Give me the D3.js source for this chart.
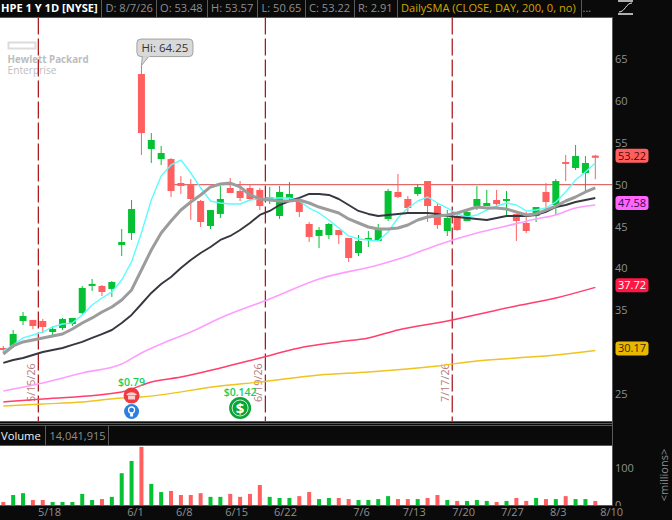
<!DOCTYPE html>
<html lang="en">
<head>
  <meta charset="UTF-8">
  <script src="https://d3js.org/d3.v7.min.js"></script>
  <title>HPE 1 Y 1D</title>
  <style>
    html, body { margin: 0; padding: 0; background: #0a0a0a; }
    svg { display: block; font-family: 'Open Sans', sans-serif; }
    .axis text { fill: #8f8f8f; font-size: 11px; font-family: 'Open Sans', sans-serif; }
    .axis path, .axis line { display: none; }
    .head { font-size: 11.1px; fill: #8f8f8f; }
  </style>
</head>
<body>
<div id="chart"></div>
<script>
  // daily candles, oldest first
  let opens = [30.47,30.71,33.70,33.82,33.70,32.38,32.86,33.34,34.65,37.89,37.89,37.53,42.79,44.22,63.24,54.27,53.07,53.07,50.20,49.96,48.05,45.06,46.50,49.61,49.25,49.61,49.37,48.29,46.26,48.41,48.05,45.30,43.87,43.98,44.58,43.63,41.83,43.39,43.27,45.90,49.13,48.29,48.89,50.44,47.45,44.46,46.26,45.66,47.45,47.45,48.17,48.05,46.50,45.42,46.26,49.13,47.57,52.71,52.00,51.40,53.48];
  let closes = [30.23,32.14,34.30,33.10,32.98,32.74,33.94,34.06,37.65,38.13,37.17,38.36,43.15,47.09,56.18,55.35,53.79,49.25,49.85,48.29,45.54,46.97,48.29,49.01,48.41,48.29,47.45,48.53,49.13,48.89,46.74,43.75,44.58,45.30,43.98,41.23,43.27,43.63,44.58,49.25,48.53,47.21,49.73,47.45,45.18,46.02,44.58,46.74,48.29,47.81,47.69,48.29,45.66,44.46,47.33,47.93,50.44,52.48,53.43,52.60,53.22];
  let highs = [30.71,32.62,34.78,33.82,33.94,33.10,34.06,34.06,37.89,38.72,38.01,38.48,44.70,48.17,64.25,56.18,54.63,53.19,51.04,50.68,48.17,46.97,49.85,50.80,50.44,49.96,49.61,49.73,49.85,50.32,48.41,45.54,44.94,45.42,44.58,43.63,43.98,44.46,45.30,49.49,51.28,48.65,50.08,50.44,47.81,46.97,46.38,46.86,49.85,49.37,49.37,49.25,46.50,46.74,47.33,50.20,50.68,53.55,54.75,53.43,53.57];
  let lows = [29.87,30.47,33.22,32.74,32.26,32.02,32.62,33.10,34.53,37.29,36.69,36.57,41.47,43.39,53.55,52.60,52.36,48.53,48.89,45.78,44.94,44.70,46.02,49.01,48.05,48.05,46.97,47.69,45.90,47.93,46.14,43.15,42.43,43.51,42.91,40.76,41.47,42.55,43.27,45.66,48.41,46.62,48.65,45.54,44.70,43.86,44.46,45.66,46.97,47.45,47.33,46.38,43.27,44.22,45.54,47.09,46.38,50.44,51.76,49.13,50.65];
  // volume in millions
  let volumes = [8,27,32,13.5,13.5,8,8,8,30,13.5,16,22,86,119,157,57,35,38,27,27,32,22,22,30,22,30,54,22,19,19,24,35,16,19,19,16,13.5,13.5,16,24,16,16,16,19,27,13.5,11,11,13.5,11,8,11,19,11,19,16,16,24,16,16,11];

  // moving averages read at every bar
  let smaCyan = [30.11,30.83,31.67,32.02,32.38,32.98,33.34,33.46,34.42,35.61,36.45,37.17,38.60,40.76,44.22,48.17,51.04,52.36,52.95,51.40,49.61,48.05,47.81,47.69,47.69,48.17,48.29,48.41,48.41,48.41,48.05,47.21,46.62,45.78,44.82,43.87,43.51,43.39,43.27,44.34,46.02,47.21,48.05,48.53,47.81,47.21,46.50,46.14,46.38,46.97,47.45,47.81,47.57,46.86,46.97,47.21,47.93,49.13,50.56,51.52,52.60];
  let smaGrey = [29.75,30.71,31.19,31.43,31.67,31.91,32.14,32.74,33.46,34.06,34.77,35.37,36.21,37.41,39.80,42.19,44.22,45.66,46.97,47.93,48.77,49.73,50.08,50.20,49.73,48.77,48.29,48.17,48.05,48.05,48.17,47.81,47.33,46.97,46.62,45.90,45.42,44.94,44.70,44.70,44.82,45.18,45.78,46.14,46.26,46.38,46.62,46.97,47.33,47.21,47.21,47.09,46.74,46.38,46.50,46.97,47.45,48.05,48.53,49.13,49.61];
  let smaBlack = [28.68,29.03,29.27,29.63,29.99,30.23,30.47,30.83,31.19,31.67,32.14,32.62,33.46,34.42,35.73,37.05,38.12,38.96,40.04,41.00,41.83,42.55,43.39,43.87,44.58,45.42,46.38,46.86,47.57,48.05,48.41,48.89,48.89,48.77,48.29,47.57,46.86,46.50,46.26,46.38,46.50,46.62,46.62,46.62,46.50,46.26,46.14,46.02,45.90,45.78,46.02,46.26,46.26,46.26,46.38,46.74,47.33,47.57,47.93,48.17,48.41];

  // the slow averages, read at the bars where they bend
  let pinkBars = [0,4,8,12,14,16,19,22,27,32,38,41,44,48,51,54,56,58,60];
  let pinkVals = [25.33,26.28,27.48,28.56,29.87,30.95,32.38,34.06,36.33,38.72,40.40,41.47,42.79,44.22,45.06,45.90,46.38,47.21,47.58];
  let redBars = [0,4,12,15,18,22,26,30,34,37,40,45,52,56,60];
  let redVals = [24.01,24.37,25.21,26.40,27.00,28.08,29.27,30.47,31.19,31.67,32.62,33.70,35.49,36.45,37.72];
  let goldBars = [0,4,8,12,14,22,26,32,37,44,48,52,56,60];
  let goldVals = [23.53,23.77,24.01,24.49,24.61,25.92,26.40,27.24,27.60,28.32,28.91,29.27,29.63,30.17];

  let priceTicks = [65,60,55,50,45,40,35,25];
  let volumeTicks = [0,100];
  let dateLabels = ['5/18','6/1','6/8','6/15','6/22','7/6','7/13','7/20','7/27','8/3','8/10'];
  let dateLabelBars = [4.63,13.35,18.3,23.6,28.55,36.25,41.6,46.6,51.55,56.2,61.6];

  // monthly expiry lines
  let expiryLabels = ['5/15/26','6/19/26','7/17/26'];
  let expiryBars = [3.55,26.56,45.5];

  let levelPrice = 50, levelStartBar = 17;
  let hiBar = 14, hiPrice = 64.25;
  let earningsBar = 13, earningsText = '$0.79';
  let dividendBar = 24, dividendText = '$0.142';

  let headCells = ['D: 8/7/26','O: 53.48','H: 53.57','L: 50.65','C: 53.22','R: 2.91'];

  let width = 672, height = 520,
      plotRight = 612.5, plotTop = 17.5, plotBottom = 421,
      volTop = 446, volBottom = 505;

  let green = '#05c133', red = '#ff5f5f';

  let x = d3.scaleLinear().domain([0, 60]).range([3.3, 595.3]);
  let y = d3.scaleLinear().domain([25, 65]).range([393.7, 59.3]);
  let yVol = d3.scaleLinear().domain([0, 100]).range([volBottom, 468]);

  let svg = d3.select('#chart').append('svg')
      .attr('width', width).attr('height', height);

  svg.append('rect').attr('width', width).attr('height', height).attr('fill', '#0a0a0a');

  // panels
  svg.append('rect').attr('x', 0).attr('y', plotTop)
      .attr('width', plotRight).attr('height', plotBottom - plotTop).attr('fill', '#fff');
  svg.append('rect').attr('x', 0).attr('y', volTop)
      .attr('width', plotRight).attr('height', volBottom - volTop).attr('fill', '#fff');

  let plot = svg.append('g');

  // watermark
  let logo = plot.append('g');
  logo.append('rect').attr('x', 8.5).attr('y', 42.5).attr('width', 27).attr('height', 6)
      .attr('fill', 'none').attr('stroke', '#dcdcdc').attr('stroke-width', 2);
  logo.append('text').attr('x', 7.5).attr('y', 63).attr('font-size', 9.8)
      .attr('font-weight', 700).attr('fill', '#bdbdbd').text('Hewlett Packard');
  logo.append('text').attr('x', 7.5).attr('y', 73.5).attr('font-size', 10.2)
      .attr('fill', '#bdbdbd').text('Enterprise');

  // expiry lines and their dates
  plot.selectAll('.expiry').data(expiryBars).join('line')
      .attr('class', 'expiry')
      .attr('x1', d => x(d)).attr('x2', d => x(d))
      .attr('y1', plotTop).attr('y2', plotBottom)
      .attr('stroke', '#a50f14').attr('stroke-width', 1.2)
      .attr('stroke-dasharray', '17,4');
  plot.selectAll('.expiryText').data(expiryBars).join('text')
      .attr('class', 'expiryText')
      .attr('transform', d => 'translate(' + (x(d) - 3.5) + ',402) rotate(-90)')
      .attr('font-size', 10.8).attr('fill', '#b27a7a')
      .text((d, i) => expiryLabels[i]);

  // price level
  plot.append('line')
      .attr('x1', x(levelStartBar)).attr('x2', plotRight)
      .attr('y1', y(levelPrice)).attr('y2', y(levelPrice))
      .attr('stroke', '#d84848').attr('stroke-width', 1);

  // candles
  let candle = plot.selectAll('.candle').data(opens).join('g').attr('class', 'candle');
  let candleColor = (d, i) => closes[i] < opens[i] ? red : green;
  candle.append('line')
      .attr('x1', (d, i) => x(i)).attr('x2', (d, i) => x(i))
      .attr('y1', (d, i) => y(highs[i])).attr('y2', (d, i) => y(lows[i]))
      .attr('stroke', candleColor).attr('stroke-width', 1);
  candle.append('rect')
      .attr('x', (d, i) => x(i) - 3.5).attr('width', 7)
      .attr('y', (d, i) => y(Math.max(opens[i], closes[i])))
      .attr('height', (d, i) => Math.max(1.5, Math.abs(y(opens[i]) - y(closes[i]))))
      .attr('fill', candleColor);

  // averages
  let line = d3.line().x(d => x(d[0])).y(d => y(d[1]));
  let slowLine = d3.line().x(d => x(d[0])).y(d => y(d[1])).curve(d3.curveMonotoneX);
  let everyBar = vals => vals.map((v, i) => [i, v]);
  let someBars = (bars, vals) => bars.map((b, i) => [b, vals[i]]);

  let drawLine = (d, color, w) => plot.append('path')
      .attr('d', d).attr('fill', 'none')
      .attr('stroke', color).attr('stroke-width', w)
      .attr('stroke-linejoin', 'round');

  drawLine(slowLine(someBars(goldBars, goldVals)), '#f0c31e', 1.4);
  drawLine(slowLine(someBars(redBars, redVals)), '#ff3f6c', 1.5);
  drawLine(slowLine(someBars(pinkBars, pinkVals)), '#ff9dff', 1.6);
  drawLine(line(everyBar(smaCyan)), '#5dfcfc', 1.4);
  drawLine(line(everyBar(smaBlack)), '#37373f', 1.9);
  drawLine(line(everyBar(smaGrey)), '#9c9c9c', 3);

  // high callout
  let hi = plot.append('g').attr('transform', 'translate(' + x(hiBar) + ',' + y(hiPrice) + ')');
  hi.append('path').attr('d', 'M0,0 L1,-10 L8,-10 Z').attr('fill', '#d9d9d9').attr('stroke', '#a0a0a0');
  hi.append('rect').attr('x', -4.5).attr('y', -26.5).attr('width', 56).attr('height', 17.5).attr('rx', 4)
      .attr('fill', '#d9d9d9').attr('stroke', '#a0a0a0');
  hi.append('path').attr('d', 'M1,-9.5 L8,-9.5').attr('stroke', '#d9d9d9').attr('stroke-width', 1.5);
  hi.append('text').attr('x', 23.5).attr('y', -13.5).attr('text-anchor', 'middle')
      .attr('font-size', 11.5).attr('fill', '#333').text('Hi: ' + hiPrice);

  // earnings markers
  let ex = x(earningsBar);
  plot.append('text').attr('x', ex).attr('y', 386).attr('text-anchor', 'middle')
      .attr('font-size', 10.5).attr('font-weight', 600).attr('fill', '#17cf5a').text(earningsText);
  let phone = plot.append('g').attr('transform', 'translate(' + ex + ',395.5)');
  phone.append('circle').attr('r', 8).attr('fill', '#ee3b3f');
  phone.append('path').attr('d', 'M-5.5,-1 Q0,-5.5 5.5,-1 L3.5,0 L-3.5,0 Z').attr('fill', '#ffd0d0');
  phone.append('rect').attr('x', -3.5).attr('y', 0.5).attr('width', 7).attr('height', 3.5).attr('fill', '#ffd0d0');
  let bulb = plot.append('g').attr('transform', 'translate(' + ex + ',411.5)');
  bulb.append('circle').attr('r', 7.5).attr('fill', '#2a80e0');
  bulb.append('circle').attr('cy', -1.5).attr('r', 3).attr('fill', 'none').attr('stroke', '#fff').attr('stroke-width', 1.3);
  bulb.append('rect').attr('x', -1.5).attr('y', 1.5).attr('width', 3).attr('height', 3.5).attr('fill', '#fff');

  let dx = x(dividendBar);
  plot.append('text').attr('x', dx).attr('y', 396).attr('text-anchor', 'middle')
      .attr('font-size', 10.5).attr('font-weight', 600).attr('fill', '#17cf5a').text(dividendText);
  let coin = plot.append('g').attr('transform', 'translate(' + dx + ',408)');
  coin.append('circle').attr('r', 11).attr('fill', '#0aa535');
  coin.append('circle').attr('r', 8).attr('fill', 'none').attr('stroke', '#fff').attr('stroke-width', 0.8);
  coin.append('text').attr('y', 5.5).attr('text-anchor', 'middle').attr('font-size', 15)
      .attr('font-weight', 700).attr('fill', '#fff').text('$');

  // volume bars
  svg.selectAll('.vol').data(volumes).join('rect')
      .attr('class', 'vol')
      .attr('x', (d, i) => x(i) - 2).attr('width', 4)
      .attr('y', d => yVol(d)).attr('height', d => yVol(0) - yVol(d))
      .attr('fill', candleColor);

  // axes
  svg.append('g').attr('class', 'axis')
      .attr('transform', 'translate(615,0)')
      .call(d3.axisRight(y).tickValues(priceTicks).tickSize(0).tickPadding(0));
  svg.append('g').attr('class', 'axis')
      .attr('transform', 'translate(615,0)')
      .call(d3.axisRight(yVol).tickValues(volumeTicks).tickSize(0).tickPadding(0));

  // date strip covers the bottom of the zero label
  svg.append('rect').attr('x', 0).attr('y', 506).attr('width', width).attr('height', 14).attr('fill', '#0a0a0a');
  svg.append('g').attr('class', 'axis')
      .attr('transform', 'translate(0,505)')
      .call(d3.axisBottom(x).tickValues(dateLabelBars).tickSize(0).tickPadding(3)
          .tickFormat((d, i) => dateLabels[i]));

  svg.append('text')
      .attr('transform', 'translate(668,475) rotate(-90)')
      .attr('text-anchor', 'middle').attr('font-size', 11).attr('fill', '#8f8f8f')
      .text('<millions>');

  // frame lines
  let frame = '#5a5a5a';
  let rule = (x1, y1, x2, y2) => svg.append('line')
      .attr('x1', x1).attr('y1', y1).attr('x2', x2).attr('y2', y2)
      .attr('stroke', frame).attr('stroke-width', 1);
  rule(0, 17.5, plotRight, 17.5);
  rule(612.5, 17.5, 612.5, 505.5);
  rule(0, 421.5, 612.5, 421.5);
  rule(0, 423.5, 612.5, 423.5);
  rule(0, 425.5, 612.5, 425.5);
  rule(0, 445.5, 612.5, 445.5);
  rule(0, 505.5, 612.5, 505.5);
  rule(45.5, 426, 45.5, 445);
  rule(108.5, 426, 108.5, 445);

  // header strip
  svg.append('text').attr('x', 1).attr('y', 12).attr('font-size', 11.1).attr('font-weight', 700)
      .attr('fill', '#fff').text('HPE 1 Y 1D [NYSE]');
  let headX = [105.5, 160, 211, 261.5, 309, 358];
  let headDiv = [101.5, 156.5, 207.5, 257.5, 305.5, 354.5, 397.5, 581.5];
  svg.selectAll('.head').data(headCells).join('text')
      .attr('class', 'head').attr('x', (d, i) => headX[i]).attr('y', 12).text(d => d);
  headDiv.forEach(d => rule(d, 0, d, 17));
  svg.append('text').attr('x', 401).attr('y', 12).attr('font-size', 11.1).attr('fill', '#d2a600')
      .text('DailySMA (CLOSE, DAY, 200, 0, no)');
  svg.append('text').attr('x', 582.5).attr('y', 12).attr('font-size', 11.1).attr('fill', '#6f93c4').text('...');

  // study icon, top right
  rule(618, 1, 633, 1).attr('stroke', '#e8e8e8').attr('stroke-width', 1.5);
  rule(618, 14, 633, 14).attr('stroke', '#e8e8e8').attr('stroke-width', 1.5);
  svg.append('path').attr('d', 'M619,12 C625,12 626,3 632,3').attr('fill', 'none')
      .attr('stroke', '#e8e8e8').attr('stroke-width', 1);

  // volume header text
  svg.append('text').attr('x', 1).attr('y', 440).attr('font-size', 11.2).attr('fill', '#f0f0f0').text('Volume');
  svg.append('text').attr('x', 49.5).attr('y', 440).attr('font-size', 11).attr('fill', '#8f8f8f').text('14,041,915');

  // last value badges
  let badgeVals = [closes[60], pinkVals[pinkVals.length - 1], redVals[redVals.length - 1], goldVals[goldVals.length - 1]];
  let badgeFill = ['#ff5f5f', '#ff66ff', '#ff1744', '#e8b800'];
  let badgeText = ['#4a0b0b', '#3a0a4a', '#fff', '#3a2a00'];
  let badge = svg.selectAll('.badge').data(badgeVals).join('g').attr('class', 'badge')
      .attr('transform', d => 'translate(615.5,' + (y(d) - 2) + ')');
  badge.append('rect').attr('y', -7).attr('width', 33).attr('height', 14).attr('rx', 3)
      .attr('fill', (d, i) => badgeFill[i]);
  badge.append('text').attr('x', 16.5).attr('y', 4).attr('text-anchor', 'middle')
      .attr('font-size', 11).attr('fill', (d, i) => badgeText[i]).text(d => d.toFixed(2));
</script>
</body>
</html>
